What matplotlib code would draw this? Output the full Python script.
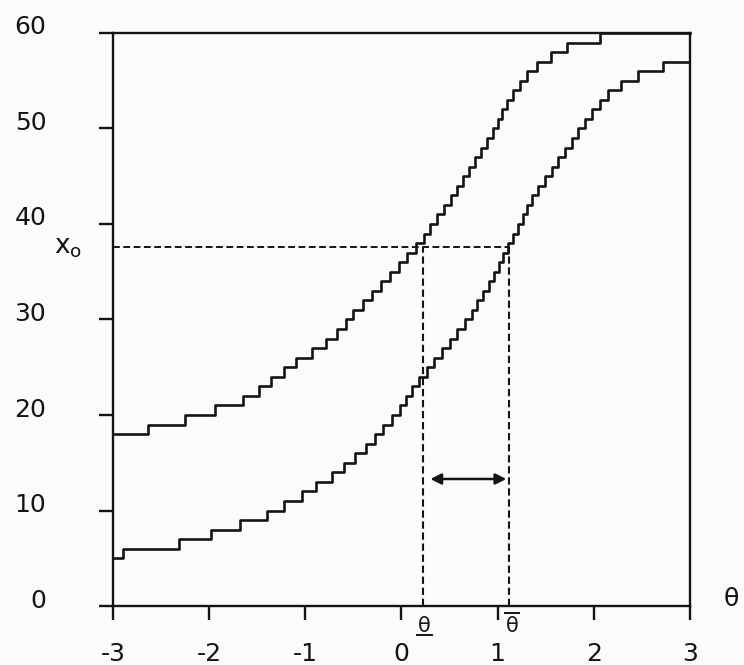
import matplotlib
matplotlib.use("Agg")
import matplotlib.pyplot as plt
from matplotlib.transforms import ScaledTranslation, blended_transform_factory

# ---- data ----
x_ticks = [-3, -2, -1, 0, 1, 2, 3]
y_ticks = [0, 10, 20, 30, 40, 50, 60]

upper_levels = list(range(18, 61))
upper_start = [-3.00, -2.64, -2.25, -1.94, -1.65, -1.48, -1.36, -1.22, -1.10, -0.93,
               -0.78, -0.67, -0.58, -0.50, -0.40, -0.31, -0.21, -0.12, -0.03, 0.06,
               0.15, 0.23, 0.30, 0.37, 0.44, 0.51, 0.58, 0.64, 0.70, 0.76,
               0.83, 0.89, 0.95, 1.00, 1.05, 1.10, 1.16, 1.23, 1.31, 1.41,
               1.55, 1.72, 2.06]

lower_levels = list(range(5, 58))
lower_start = [-3.00, -2.90, -2.31, -1.98, -1.68, -1.40, -1.22, -1.03, -0.89, -0.72,
               -0.60, -0.48, -0.37, -0.28, -0.19, -0.10, -0.02, 0.05, 0.11, 0.18,
               0.26, 0.34, 0.42, 0.50, 0.58, 0.66, 0.73, 0.79, 0.85, 0.91,
               0.96, 1.01, 1.06, 1.11, 1.16, 1.21, 1.26, 1.31, 1.36, 1.42,
               1.49, 1.56, 1.63, 1.70, 1.77, 1.84, 1.91, 1.98, 2.06, 2.15,
               2.28, 2.46, 2.72]

x0_level = 37.6
theta_lo = 0.22
theta_hi = 1.12
arrow_y = 13.3
arrow_left = 0.30
arrow_right = 1.09

ink = "#141414"

fig = plt.figure(figsize=(7.44, 6.65), dpi=100)
fig.patch.set_facecolor("#fbfbfa")
ax = fig.add_axes([0.1519, 0.0887, 0.7755, 0.8617])
ax.set_facecolor("#fbfbfa")
ax.set_xlim(-3, 3)
ax.set_ylim(0, 60)

for s in ax.spines.values():
    s.set_linewidth(1.7)
    s.set_color(ink)

# step curves
ax.step(upper_start + [3.0], upper_levels + [upper_levels[-1]], where="post",
        color=ink, lw=1.9, clip_on=False)
ax.step(lower_start + [3.0], lower_levels + [lower_levels[-1]], where="post",
        color=ink, lw=1.9)

# dashed construction lines
dash = (0, (3.5, 1.8))
ax.plot([-3, theta_hi], [x0_level, x0_level], color=ink, lw=1.4, ls=dash)
ax.plot([theta_lo, theta_lo], [0, x0_level], color=ink, lw=1.5, ls=dash)
ax.plot([theta_hi, theta_hi], [0, x0_level], color=ink, lw=1.5, ls=dash)

# double arrow
ax.annotate("", xy=(arrow_left, arrow_y), xytext=(arrow_right, arrow_y),
            arrowprops=dict(arrowstyle="<|-|>", color=ink, lw=1.8,
                            mutation_scale=16, shrinkA=0, shrinkB=0))

# ticks
ax.set_xticks(x_ticks)
ax.set_xticklabels([str(v) for v in x_ticks])
ax.set_yticks(y_ticks)
ax.set_yticklabels([str(v) for v in y_ticks])
ax.tick_params(axis="both", direction="out", length=10, width=1.7, color=ink,
               labelsize=18, labelcolor=ink)
ax.tick_params(axis="y", pad=38)
ax.tick_params(axis="x", pad=16)
for lab in ax.get_yticklabels():
    lab.set_transform(lab.get_transform() + ScaledTranslation(0, 0.08, fig.dpi_scale_trans))

# axis labels
bt = blended_transform_factory(ax.transAxes, ax.transData)
ax.text(-0.078, x0_level, r"$\mathregular{x_o}$", transform=bt, fontsize=19,
        ha="center", va="center", color=ink)
ax.text(1.072, 0.7, "θ", transform=bt, fontsize=18, ha="center", va="center",
        color=ink, clip_on=False)

# theta markers below the axis
ax.annotate("θ", xy=(theta_lo, 0), xytext=(2, -20), textcoords="offset pixels",
            ha="center", va="center", fontsize=15, color=ink, annotation_clip=False)
ax.annotate("θ", xy=(theta_hi, 0), xytext=(3, -20), textcoords="offset pixels",
            ha="center", va="center", fontsize=15, color=ink, annotation_clip=False)

# under/over bars for the theta markers
def bar(xc, dy_px, half=0.075):
    off = ScaledTranslation(0, dy_px / 100.0, fig.dpi_scale_trans)
    ax.plot([xc - half, xc + half], [0, 0], color=ink, lw=1.4,
            transform=ax.transData + off, clip_on=False)

bar(theta_lo + 0.02, -29)
bar(theta_hi + 0.03, -7)

fig.savefig("out.png", dpi=100, facecolor=fig.get_facecolor())
